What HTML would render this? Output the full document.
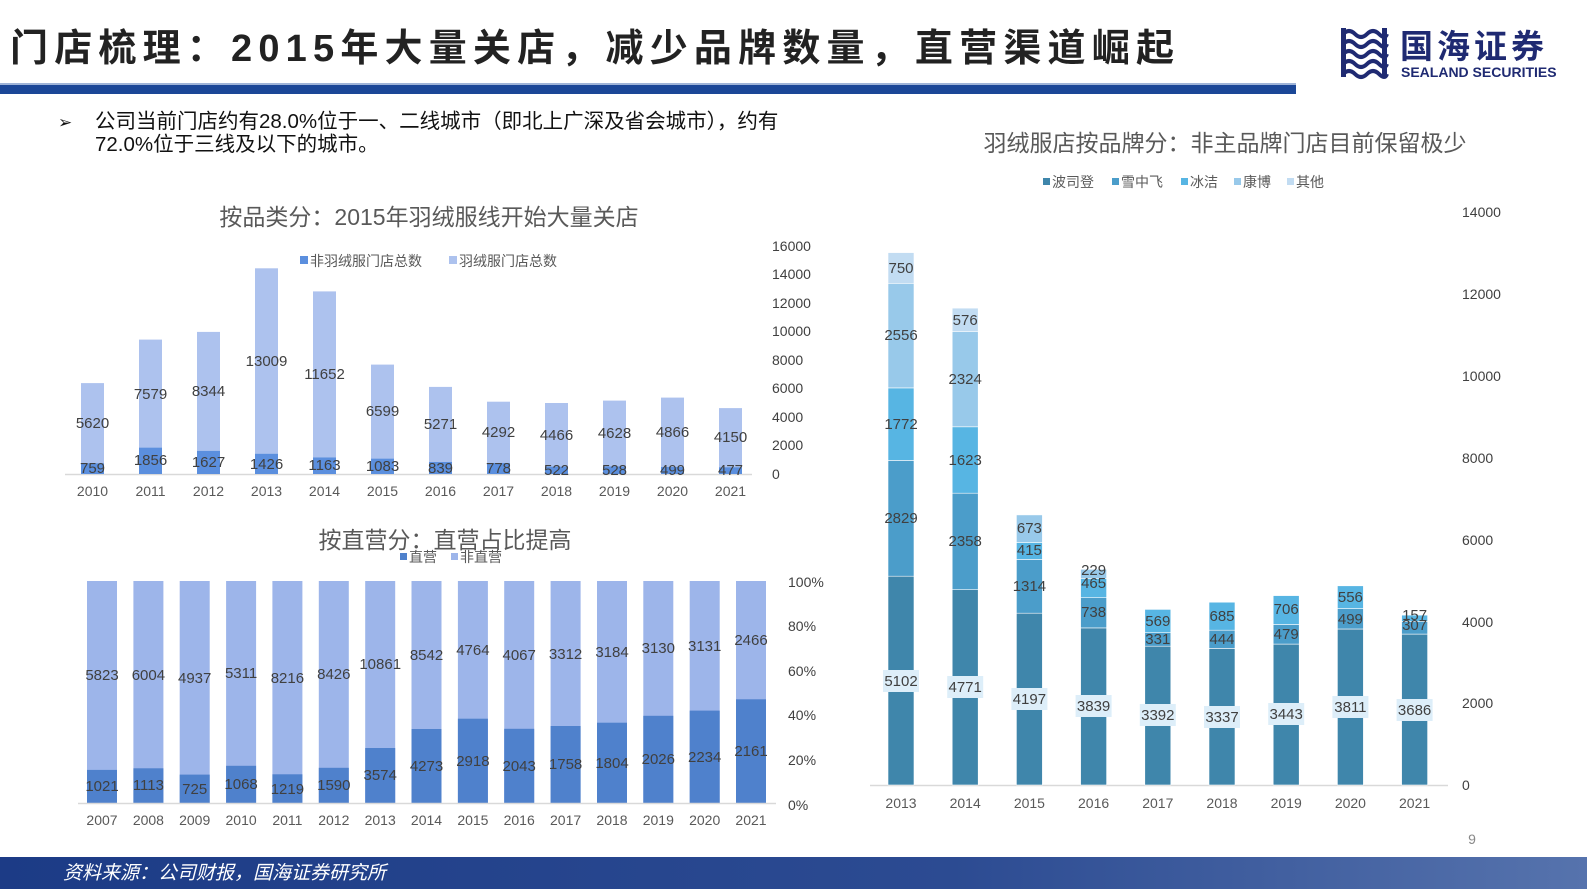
<!DOCTYPE html>
<html><head><meta charset="utf-8"><style>
html,body{margin:0;padding:0;background:#fff;}
body{width:1587px;height:892px;position:relative;overflow:hidden;font-family:"Liberation Sans","Noto Sans CJK SC",sans-serif;}
</style></head><body>
<svg width="1587" height="892" xmlns="http://www.w3.org/2000/svg" style="position:absolute;left:0;top:0" font-family="Liberation Sans, Noto Sans CJK SC, sans-serif">
<!-- header -->
<text x="10" y="61" font-size="38" font-weight="bold" fill="#222" letter-spacing="6.2">门店梳理：2015年大量关店，减少品牌数量，直营渠道崛起</text>
<rect x="0" y="83" width="1296" height="2" fill="#9fb4d8"/>
<rect x="0" y="85" width="1296" height="9" fill="#1b4797"/>
<!-- logo -->
<g fill="#1f2a72">
<path d="M1343 34 q6 -6 12 0 t12 0 t12 0 t8 0" stroke="#1f2a72" stroke-width="4" fill="none"/>
<path d="M1343 44 q6 -6 12 0 t12 0 t12 0 t8 0" stroke="#1f2a72" stroke-width="4" fill="none"/>
<path d="M1343 54 q6 -6 12 0 t12 0 t12 0 t8 0" stroke="#1f2a72" stroke-width="4" fill="none"/>
<path d="M1343 64 q6 -6 12 0 t12 0 t12 0 t8 0" stroke="#1f2a72" stroke-width="4" fill="none"/>
<path d="M1343 74 q6 -6 12 0 t12 0 t12 0 t8 0" stroke="#1f2a72" stroke-width="4" fill="none"/>
<rect x="1341" y="28" width="5" height="49"/>
<rect x="1382" y="28" width="5" height="49"/>
<text x="1400" y="58" font-size="33" font-weight="bold" letter-spacing="4">国海证券</text>
<text x="1401" y="77" font-size="14" font-weight="bold">SEALAND SECURITIES</text>
</g>
<!-- bullet -->
<text x="58" y="128" font-size="17" fill="#111">➢</text>
<text x="95" y="128" font-size="20.5" fill="#111">公司当前门店约有28.0%位于一、二线城市（即北上广深及省会城市），约有</text>
<text x="95" y="151" font-size="20.5" fill="#111">72.0%位于三线及以下的城市。</text>

<!-- TOP LEFT CHART -->
<text x="429" y="225" font-size="23" fill="#595959" text-anchor="middle">按品类分：2015年羽绒服线开始大量关店</text>
<rect x="300" y="256" width="8" height="8" fill="#5b8fde"/>
<text x="310" y="266" font-size="14" fill="#595959">非羽绒服门店总数</text>
<rect x="449" y="256" width="8" height="8" fill="#adc2ee"/>
<text x="459" y="266" font-size="14" fill="#595959">羽绒服门店总数</text>
<g font-size="14" fill="#404040">
<text x="772" y="251">16000</text><text x="772" y="279">14000</text><text x="772" y="308">12000</text><text x="772" y="336">10000</text>
<text x="772" y="365">8000</text><text x="772" y="393">6000</text><text x="772" y="422">4000</text><text x="772" y="450">2000</text><text x="772" y="479">0</text>
</g>
<line x1="65" y1="474.5" x2="752" y2="474.5" stroke="#d9d9d9" stroke-width="1.5"/>
<g fill="#adc2ee">
<rect x="81" y="383.1" width="23" height="80.1"/><rect x="139" y="339.6" width="23" height="108"/><rect x="197" y="331.9" width="23" height="118.9"/>
<rect x="255" y="268.3" width="23" height="185.4"/><rect x="313" y="291.4" width="23" height="166"/><rect x="371" y="364.6" width="23" height="94"/>
<rect x="429" y="386.9" width="23" height="75.1"/><rect x="487" y="401.7" width="23" height="61.2"/><rect x="545" y="403" width="23" height="63.6"/>
<rect x="603" y="400.6" width="23" height="65.9"/><rect x="661" y="397.6" width="23" height="69.3"/><rect x="719" y="408.1" width="23" height="59.1"/>
</g>
<g fill="#5b8fde">
<rect x="81" y="463.2" width="23" height="10.8"/><rect x="139" y="447.6" width="23" height="26.4"/><rect x="197" y="450.8" width="23" height="23.2"/>
<rect x="255" y="453.7" width="23" height="20.3"/><rect x="313" y="457.4" width="23" height="16.6"/><rect x="371" y="458.6" width="23" height="15.4"/>
<rect x="429" y="462" width="23" height="12"/><rect x="487" y="462.9" width="23" height="11.1"/><rect x="545" y="466.6" width="23" height="7.4"/>
<rect x="603" y="466.5" width="23" height="7.5"/><rect x="661" y="466.9" width="23" height="7.1"/><rect x="719" y="467.2" width="23" height="6.8"/>
</g>
<g font-size="15" fill="#404040" text-anchor="middle">
<text x="92.5" y="428">5620</text><text x="150.5" y="399">7579</text><text x="208.5" y="396">8344</text><text x="266.5" y="366">13009</text>
<text x="324.5" y="379">11652</text><text x="382.5" y="416">6599</text><text x="440.5" y="429">5271</text><text x="498.5" y="437">4292</text>
<text x="556.5" y="440">4466</text><text x="614.5" y="438">4628</text><text x="672.5" y="437">4866</text><text x="730.5" y="442">4150</text>
<text x="92.5" y="473">759</text><text x="150.5" y="465">1856</text><text x="208.5" y="467">1627</text><text x="266.5" y="469">1426</text>
<text x="324.5" y="470">1163</text><text x="382.5" y="471">1083</text><text x="440.5" y="473">839</text><text x="498.5" y="473">778</text>
<text x="556.5" y="475">522</text><text x="614.5" y="475">528</text><text x="672.5" y="475">499</text><text x="730.5" y="475">477</text>
</g>
<g font-size="14" fill="#595959" text-anchor="middle">
<text x="92.5" y="496">2010</text><text x="150.5" y="496">2011</text><text x="208.5" y="496">2012</text><text x="266.5" y="496">2013</text>
<text x="324.5" y="496">2014</text><text x="382.5" y="496">2015</text><text x="440.5" y="496">2016</text><text x="498.5" y="496">2017</text>
<text x="556.5" y="496">2018</text><text x="614.5" y="496">2019</text><text x="672.5" y="496">2020</text><text x="730.5" y="496">2021</text>
</g>

<!-- BOTTOM LEFT CHART -->
<text x="445" y="548" font-size="23" fill="#595959" text-anchor="middle">按直营分：直营占比提高</text>
<rect x="400" y="553" width="7" height="7" fill="#4f81cc"/>
<text x="409" y="562" font-size="14" fill="#595959">直营</text>
<rect x="451" y="553" width="7" height="7" fill="#9db5ea"/>
<text x="460" y="562" font-size="14" fill="#595959">非直营</text>
<g font-size="14" fill="#404040">
<text x="788" y="587">100%</text><text x="788" y="631">80%</text><text x="788" y="676">60%</text><text x="788" y="720">40%</text><text x="788" y="765">20%</text><text x="788" y="810">0%</text>
</g>
<g fill="#9db5ea">
<rect x="87" y="581" width="30" height="222"/><rect x="133.4" y="581" width="30" height="222"/><rect x="179.7" y="581" width="30" height="222"/>
<rect x="226.1" y="581" width="30" height="222"/><rect x="272.4" y="581" width="30" height="222"/><rect x="318.8" y="581" width="30" height="222"/>
<rect x="365.2" y="581" width="30" height="222"/><rect x="411.5" y="581" width="30" height="222"/><rect x="457.9" y="581" width="30" height="222"/>
<rect x="504.2" y="581" width="30" height="222"/><rect x="550.6" y="581" width="30" height="222"/><rect x="597" y="581" width="30" height="222"/>
<rect x="643.3" y="581" width="30" height="222"/><rect x="689.7" y="581" width="30" height="222"/><rect x="736" y="581" width="30" height="222"/>
</g>
<g fill="#4f81cc">
<rect x="87" y="769.9" width="30" height="33.1"/><rect x="133.4" y="768.3" width="30" height="34.7"/><rect x="179.7" y="774.6" width="30" height="28.4"/>
<rect x="226.1" y="765.8" width="30" height="37.2"/><rect x="272.4" y="774.3" width="30" height="28.7"/><rect x="318.8" y="767.8" width="30" height="35.2"/>
<rect x="365.2" y="748" width="30" height="55"/><rect x="411.5" y="729" width="30" height="74"/><rect x="457.9" y="718.7" width="30" height="84.3"/>
<rect x="504.2" y="728.8" width="30" height="74.2"/><rect x="550.6" y="726" width="30" height="77"/><rect x="597" y="722.7" width="30" height="80.3"/>
<rect x="643.3" y="715.8" width="30" height="87.2"/><rect x="689.7" y="710.6" width="30" height="92.4"/><rect x="736" y="699.3" width="30" height="103.7"/>
</g>
<line x1="78" y1="803.5" x2="776" y2="803.5" stroke="#d9d9d9" stroke-width="1.5"/>
<g font-size="15" fill="#404040" text-anchor="middle">
<text x="102" y="680">5823</text><text x="148.4" y="680">6004</text><text x="194.7" y="683">4937</text><text x="241.1" y="678">5311</text>
<text x="287.4" y="683">8216</text><text x="333.8" y="679">8426</text><text x="380.2" y="669">10861</text><text x="426.5" y="660">8542</text>
<text x="472.9" y="655">4764</text><text x="519.2" y="660">4067</text><text x="565.6" y="659">3312</text><text x="612" y="657">3184</text>
<text x="658.3" y="653">3130</text><text x="704.7" y="651">3131</text><text x="751" y="645">2466</text>
<text x="102" y="791">1021</text><text x="148.4" y="790">1113</text><text x="194.7" y="794">725</text><text x="241.1" y="789">1068</text>
<text x="287.4" y="794">1219</text><text x="333.8" y="790">1590</text><text x="380.2" y="780">3574</text><text x="426.5" y="771">4273</text>
<text x="472.9" y="766">2918</text><text x="519.2" y="771">2043</text><text x="565.6" y="769">1758</text><text x="612" y="768">1804</text>
<text x="658.3" y="764">2026</text><text x="704.7" y="762">2234</text><text x="751" y="756">2161</text>
</g>
<g font-size="14" fill="#595959" text-anchor="middle">
<text x="102" y="825">2007</text><text x="148.4" y="825">2008</text><text x="194.7" y="825">2009</text><text x="241.1" y="825">2010</text>
<text x="287.4" y="825">2011</text><text x="333.8" y="825">2012</text><text x="380.2" y="825">2013</text><text x="426.5" y="825">2014</text>
<text x="472.9" y="825">2015</text><text x="519.2" y="825">2016</text><text x="565.6" y="825">2017</text><text x="612" y="825">2018</text>
<text x="658.3" y="825">2019</text><text x="704.7" y="825">2020</text><text x="751" y="825">2021</text>
</g>

<!-- RIGHT CHART -->
<text x="1225" y="151" font-size="23" fill="#595959" text-anchor="middle">羽绒服店按品牌分：非主品牌门店目前保留极少</text>
<g font-size="14" fill="#595959">
<rect x="1043" y="178" width="7" height="7" fill="#3f86ab"/><text x="1052" y="187">波司登</text>
<rect x="1112" y="178" width="7" height="7" fill="#4b9dca"/><text x="1121" y="187">雪中飞</text>
<rect x="1181" y="178" width="7" height="7" fill="#57b5e3"/><text x="1190" y="187">冰洁</text>
<rect x="1234" y="178" width="7" height="7" fill="#98c9ea"/><text x="1243" y="187">康博</text>
<rect x="1287" y="178" width="7" height="7" fill="#c2dcf2"/><text x="1296" y="187">其他</text>
</g>
<g font-size="14" fill="#404040">
<text x="1462" y="217">14000</text><text x="1462" y="299">12000</text><text x="1462" y="381">10000</text><text x="1462" y="463">8000</text>
<text x="1462" y="545">6000</text><text x="1462" y="627">4000</text><text x="1462" y="708">2000</text><text x="1462" y="790">0</text>
</g>
<line x1="870" y1="785.5" x2="1448" y2="785.5" stroke="#d9d9d9" stroke-width="1.5"/>
<g stroke="#fff" stroke-width="0.6">
<rect x="888" y="576.2" width="26" height="208.8" fill="#3f86ab"/>
<rect x="888" y="460.4" width="26" height="115.8" fill="#4b9dca"/>
<rect x="888" y="387.9" width="26" height="72.5" fill="#57b5e3"/>
<rect x="888" y="283.3" width="26" height="104.6" fill="#98c9ea"/>
<rect x="888" y="252.6" width="26" height="30.7" fill="#c2dcf2"/>
<rect x="952.2" y="589.7" width="26" height="195.3" fill="#3f86ab"/>
<rect x="952.2" y="493.2" width="26" height="96.5" fill="#4b9dca"/>
<rect x="952.2" y="426.8" width="26" height="66.4" fill="#57b5e3"/>
<rect x="952.2" y="331.7" width="26" height="95.1" fill="#98c9ea"/>
<rect x="952.2" y="308.1" width="26" height="23.6" fill="#c2dcf2"/>
<rect x="1016.4" y="613.2" width="26" height="171.8" fill="#3f86ab"/>
<rect x="1016.4" y="559.4" width="26" height="53.8" fill="#4b9dca"/>
<rect x="1016.4" y="542.4" width="26" height="17" fill="#57b5e3"/>
<rect x="1016.4" y="514.9" width="26" height="27.5" fill="#98c9ea"/>
<rect x="1080.6" y="627.9" width="26" height="157.1" fill="#3f86ab"/>
<rect x="1080.6" y="597.7" width="26" height="30.2" fill="#4b9dca"/>
<rect x="1080.6" y="578.7" width="26" height="19" fill="#57b5e3"/>
<rect x="1080.6" y="569.3" width="26" height="9.4" fill="#98c9ea"/>
<rect x="1144.8" y="646.2" width="26" height="138.8" fill="#3f86ab"/>
<rect x="1144.8" y="632.7" width="26" height="13.5" fill="#4b9dca"/>
<rect x="1144.8" y="609.4" width="26" height="23.3" fill="#57b5e3"/>
<rect x="1209" y="648.4" width="26" height="136.6" fill="#3f86ab"/>
<rect x="1209" y="630.2" width="26" height="18.2" fill="#4b9dca"/>
<rect x="1209" y="602.2" width="26" height="28" fill="#57b5e3"/>
<rect x="1273.2" y="644.1" width="26" height="140.9" fill="#3f86ab"/>
<rect x="1273.2" y="624.5" width="26" height="19.6" fill="#4b9dca"/>
<rect x="1273.2" y="595.6" width="26" height="28.9" fill="#57b5e3"/>
<rect x="1337.4" y="629" width="26" height="156" fill="#3f86ab"/>
<rect x="1337.4" y="608.6" width="26" height="20.4" fill="#4b9dca"/>
<rect x="1337.4" y="585.8" width="26" height="22.8" fill="#57b5e3"/>
<rect x="1401.6" y="634.1" width="26" height="150.9" fill="#3f86ab"/>
<rect x="1401.6" y="621.5" width="26" height="12.6" fill="#4b9dca"/>
<rect x="1401.6" y="615.1" width="26" height="6.4" fill="#57b5e3"/>
</g>
<g fill="#ddeef9">
<rect x="883" y="670" width="36" height="22"/><rect x="947.2" y="676" width="36" height="22"/><rect x="1011.4" y="688" width="36" height="22"/>
<rect x="1075.6" y="695" width="36" height="22"/><rect x="1139.8" y="704" width="36" height="22"/><rect x="1204" y="706" width="36" height="22"/>
<rect x="1268.2" y="703" width="36" height="22"/><rect x="1332.4" y="696" width="36" height="22"/><rect x="1396.6" y="699" width="36" height="22"/>
</g>
<g font-size="15" fill="#404040" text-anchor="middle">
<text x="901" y="686">5102</text><text x="965.2" y="692">4771</text><text x="1029.4" y="704">4197</text><text x="1093.6" y="711">3839</text>
<text x="1157.8" y="720">3392</text><text x="1222" y="722">3337</text><text x="1286.2" y="719">3443</text><text x="1350.4" y="712">3811</text><text x="1414.6" y="715">3686</text>
<text x="901" y="523">2829</text><text x="901" y="429">1772</text><text x="901" y="340">2556</text><text x="901" y="273">750</text>
<text x="965.2" y="546">2358</text><text x="965.2" y="465">1623</text><text x="965.2" y="384">2324</text><text x="965.2" y="325">576</text>
<text x="1029.4" y="591">1314</text><text x="1029.4" y="555">415</text><text x="1029.4" y="533">673</text>
<text x="1093.6" y="617">738</text><text x="1093.6" y="588">465</text><text x="1093.6" y="575">229</text>
<text x="1157.8" y="644">331</text><text x="1157.8" y="626">569</text>
<text x="1222" y="644">444</text><text x="1222" y="621">685</text>
<text x="1286.2" y="639">479</text><text x="1286.2" y="614">706</text>
<text x="1350.4" y="624">499</text><text x="1350.4" y="602">556</text>
<text x="1414.6" y="630">307</text><text x="1414.6" y="620">157</text>
</g>
<g font-size="14" fill="#595959" text-anchor="middle">
<text x="901" y="808">2013</text><text x="965.2" y="808">2014</text><text x="1029.4" y="808">2015</text><text x="1093.6" y="808">2016</text>
<text x="1157.8" y="808">2017</text><text x="1222" y="808">2018</text><text x="1286.2" y="808">2019</text><text x="1350.4" y="808">2020</text><text x="1414.6" y="808">2021</text>
</g>
<text x="1472" y="844" font-size="14" fill="#888" text-anchor="middle">9</text>

<!-- footer -->
<defs><linearGradient id="fg" x1="0" x2="1" y1="0" y2="0"><stop offset="0" stop-color="#1c3b86"/><stop offset="0.6" stop-color="#2c4b92"/><stop offset="1" stop-color="#5673ad"/></linearGradient></defs>
<rect x="0" y="857" width="1587" height="32" fill="url(#fg)"/>
<text x="63" y="879" font-size="19" font-style="italic" fill="#fff">资料来源：公司财报，国海证券研究所</text>
</svg>
</body></html>
